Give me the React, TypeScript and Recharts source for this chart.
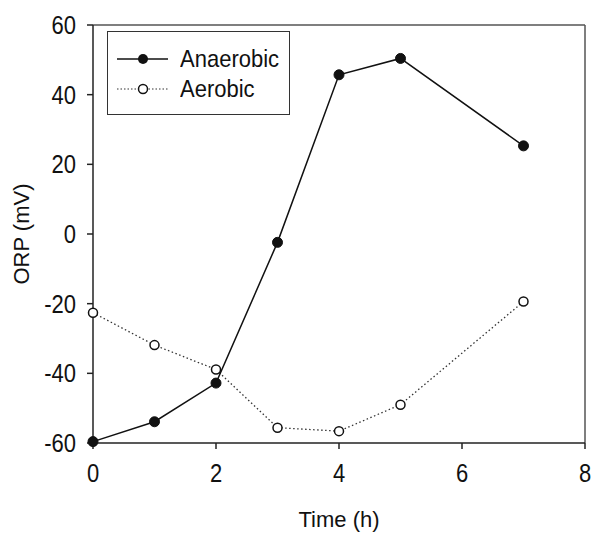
import React from 'react';
import { LineChart, Line, XAxis, YAxis, ReferenceLine } from 'recharts';

const times = [0, 1, 2, 3, 4, 5, 7];
const anaerobic = [-59.6, -53.9, -42.8, -2.4, 45.7, 50.4, 25.3];
const aerobic = [-22.6, -31.9, -38.9, -55.6, -56.6, -49.0, -19.4];
const xTicks = [0, 2, 4, 6, 8];
const yTicks = [-60, -40, -20, 0, 20, 40, 60];
const seriesNames = ['Anaerobic', 'Aerobic'];

const data = times.map((t, i) => ({ t, anaerobic: anaerobic[i], aerobic: aerobic[i] }));

const FONT = '"Liberation Sans", Arial, sans-serif';

const XTick = (props: any) => {
  const { x, y, payload } = props;
  return (
    <text
      x={0}
      y={0}
      transform={`translate(${x},${y + 24}) scale(1,1.15)`}
      textAnchor="middle"
      fill="#111"
      fontSize={22}
      fontFamily={FONT}
      dy="0.36em"
    >
      {payload.value}
    </text>
  );
};

const YTick = (props: any) => {
  const { x, y, payload } = props;
  return (
    <text
      x={0}
      y={0}
      transform={`translate(${x},${y}) scale(1,1.15)`}
      textAnchor="end"
      fill="#111"
      fontSize={22}
      fontFamily={FONT}
      dy="0.36em"
    >
      {payload.value}
    </text>
  );
};

const LegendBox = () => (
  <div
    style={{
      position: 'absolute',
      left: 107,
      top: 31,
      width: 181,
      height: 82,
      border: '1.5px solid #333',
      background: '#fff',
      fontFamily: FONT,
      fontSize: 22,
      color: '#111',
    }}
  >
    <div style={{ display: 'flex', alignItems: 'center', height: 28, marginTop: 13 }}>
      <svg width={72} height={20} style={{ display: 'block' }}>
        <line x1={9} y1={10} x2={60} y2={10} stroke="#111" strokeWidth={1.5} />
        <circle cx={35} cy={10} r={5} fill="#111" />
      </svg>
      <span style={{ lineHeight: '28px', display: 'inline-block', transform: 'scaleY(1.1)' }}>{seriesNames[0]}</span>
    </div>
    <div style={{ display: 'flex', alignItems: 'center', height: 28, marginTop: 2 }}>
      <svg width={72} height={20} style={{ display: 'block' }}>
        <line x1={9} y1={10} x2={60} y2={10} stroke="#333" strokeWidth={1.2} strokeDasharray="1.5 2" />
        <circle cx={35} cy={10} r={4.5} fill="#fff" stroke="#111" strokeWidth={1.5} />
      </svg>
      <span style={{ lineHeight: '28px', display: 'inline-block', transform: 'scaleY(1.1)' }}>{seriesNames[1]}</span>
    </div>
  </div>
);

export default function App() {
  return (
    <div style={{ position: 'absolute', left: 0, top: 0, width: 593, height: 534, background: '#fff' }}>
      <LineChart width={593} height={534} data={data} margin={{ top: 25, right: 8, left: 0, bottom: 0 }}>
        <XAxis
          dataKey="t"
          type="number"
          domain={[0, 8]}
          ticks={xTicks}
          height={91}
          tickSize={6}
          tickMargin={0}
          stroke="#222"
          strokeWidth={1.5}
          tick={<XTick />}
          label={{ value: 'Time (h)', position: 'center', dy: 31, fill: '#111', fontSize: 22, fontFamily: FONT }}
        />
        <YAxis
          type="number"
          domain={[-60, 60]}
          ticks={yTicks}
          width={93}
          tickSize={6}
          tickMargin={11}
          stroke="#222"
          strokeWidth={1.5}
          tick={<YTick />}
          label={{ value: 'ORP (mV)', angle: -90, position: 'center', dx: -25, fill: '#111', fontSize: 22, fontFamily: FONT }}
        />
        <ReferenceLine y={60} stroke="#555" strokeWidth={1.5} />
        <ReferenceLine x={8} stroke="#555" strokeWidth={1.5} />
        <Line
          dataKey="aerobic"
          name={seriesNames[1]}
          stroke="#333"
          strokeWidth={1.3}
          strokeDasharray="1.5 2.5"
          dot={{ r: 4.5, fill: '#fff', stroke: '#111', strokeWidth: 1.5, strokeDasharray: '' }}
          activeDot={false}
          isAnimationActive={false}
        />
        <Line
          dataKey="anaerobic"
          name={seriesNames[0]}
          stroke="#111"
          strokeWidth={1.5}
          dot={{ r: 5, fill: '#111', stroke: '#111', strokeWidth: 1 }}
          activeDot={false}
          isAnimationActive={false}
        />
      </LineChart>
      <LegendBox />
    </div>
  );
}
